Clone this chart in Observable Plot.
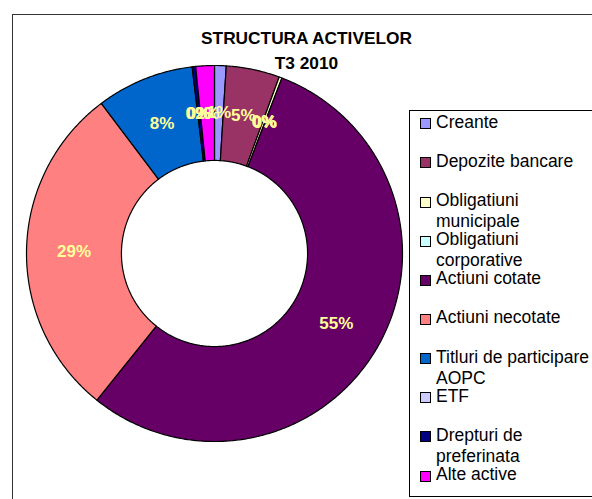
<!DOCTYPE html>
<html><head><meta charset="utf-8">
<script src="https://cdn.jsdelivr.net/npm/d3@7"></script>
<script src="https://cdn.jsdelivr.net/npm/@observablehq/plot@0.6"></script>
<style>
html,body{margin:0;padding:0;background:#fff;overflow:hidden;}
#wrap{position:relative;width:592px;height:499px;overflow:hidden;font-family:"Liberation Sans",Arial,sans-serif;}
#frame{position:absolute;left:12px;top:14px;width:640px;height:540px;border:1px solid #333;box-sizing:border-box;}
.title{position:absolute;left:0;width:613px;text-align:center;font-weight:bold;font-size:17.3px;line-height:17px;color:#000;white-space:nowrap;}
#chart{position:absolute;left:14px;top:53px;}
#legend{position:absolute;left:409px;top:110px;width:200px;height:387px;border:1px solid #000;box-sizing:border-box;background:#fff;}
.item{position:absolute;left:0;width:200px;}
.sw{position:absolute;left:10px;width:11px;height:11px;border:1px solid #000;box-sizing:border-box;}
.lt{position:absolute;left:26px;width:165px;font-size:17.5px;line-height:21px;color:#000;}
</style></head>
<body><div id="wrap"><div id="frame"></div><div id="titles"></div><div id="chart"></div><div id="legend"></div></div>
<script>
const categories = ["Creante","Depozite bancare","Obligatiuni municipale","Obligatiuni corporative","Actiuni cotate","Actiuni necotate","Titluri de participare AOPC","ETF","Drepturi de preferinata","Alte active"];
const values = [1.0, 4.6, 0.25, 0, 55.0, 29.0, 8.4, 0, 0.3, 1.6];
const colors = ["#9999FF","#993366","#FFFFCC","#CCFFFF","#660066","#FF8080","#0066CC","#CCCCFF","#000080","#FF00FF"];
const titleLines = ["STRUCTURA ACTIVELOR","T3 2010"];

// titles
const titleTops = [30, 55];
const tdiv = document.getElementById("titles");
titleLines.forEach((t,i)=>{
  const d = document.createElement("div");
  d.className = "title"; d.style.top = titleTops[i]+"px"; d.textContent = t;
  tdiv.appendChild(d);
});

// donut geometry from data
const total = d3.sum(values);
const arcs = d3.pie().sort(null).value(d=>d.value)(categories.map((name,i)=>({name, value: values[i]})));
const inner = 0.495, outer = 1;
const pts = [];
for (const a of arcs) {
  const span = a.endAngle - a.startAngle;
  if (span <= 0) continue;
  const n = Math.max(2, Math.ceil(span/(Math.PI/360)));
  const ring = [];
  for (let k=0;k<=n;k++){ const t=a.startAngle+span*k/n; ring.push({name:a.data.name,x:outer*Math.sin(t),y:outer*Math.cos(t)}); }
  for (let k=n;k>=0;k--){ const t=a.startAngle+span*k/n; ring.push({name:a.data.name,x:inner*Math.sin(t),y:inner*Math.cos(t)}); }
  ring.push({...ring[0]});
  pts.push(...ring);
}
const rl = (inner+outer)/2;
const labels = arcs.map(a=>{
  const m = (a.startAngle+a.endAngle)/2;
  return {name:a.data.name, x: rl*Math.sin(m), y: rl*Math.cos(m), label: Math.round(a.data.value/total*100)+"%"};
});

const chart = Plot.plot({
  width: 400, height: 400, margin: 0,
  x: {domain:[-1,1], range:[12,388], axis:null},
  y: {domain:[-1,1], range:[388,12], axis:null},
  color: {domain: categories, range: colors},
  style: {background:"transparent", overflow:"visible"},
  marks: [
    Plot.line(pts, {x:"x", y:"y", z:"name", fill:"name", stroke:"#000", strokeWidth:1.2}),
    Plot.text(labels, {x:"x", y:"y", text:"label", fill:"#FFFF99", fontSize:17, fontWeight:"bold", fontFamily:"Liberation Sans, Arial, sans-serif"})
  ]
});
document.getElementById("chart").appendChild(chart);

// legend
const leg = document.getElementById("legend");
categories.forEach((c,i)=>{
  const top = 0.7 + i*39.15;
  const it = document.createElement("div");
  it.className = "item"; it.style.top = top+"px";
  const sw = document.createElement("div");
  sw.className = "sw"; sw.style.top = "6.5px"; sw.style.background = colors[i];
  const lt = document.createElement("div");
  lt.className = "lt"; lt.style.top = "0px"; lt.textContent = c;
  it.appendChild(sw); it.appendChild(lt);
  leg.appendChild(it);
});
</script></body></html>
